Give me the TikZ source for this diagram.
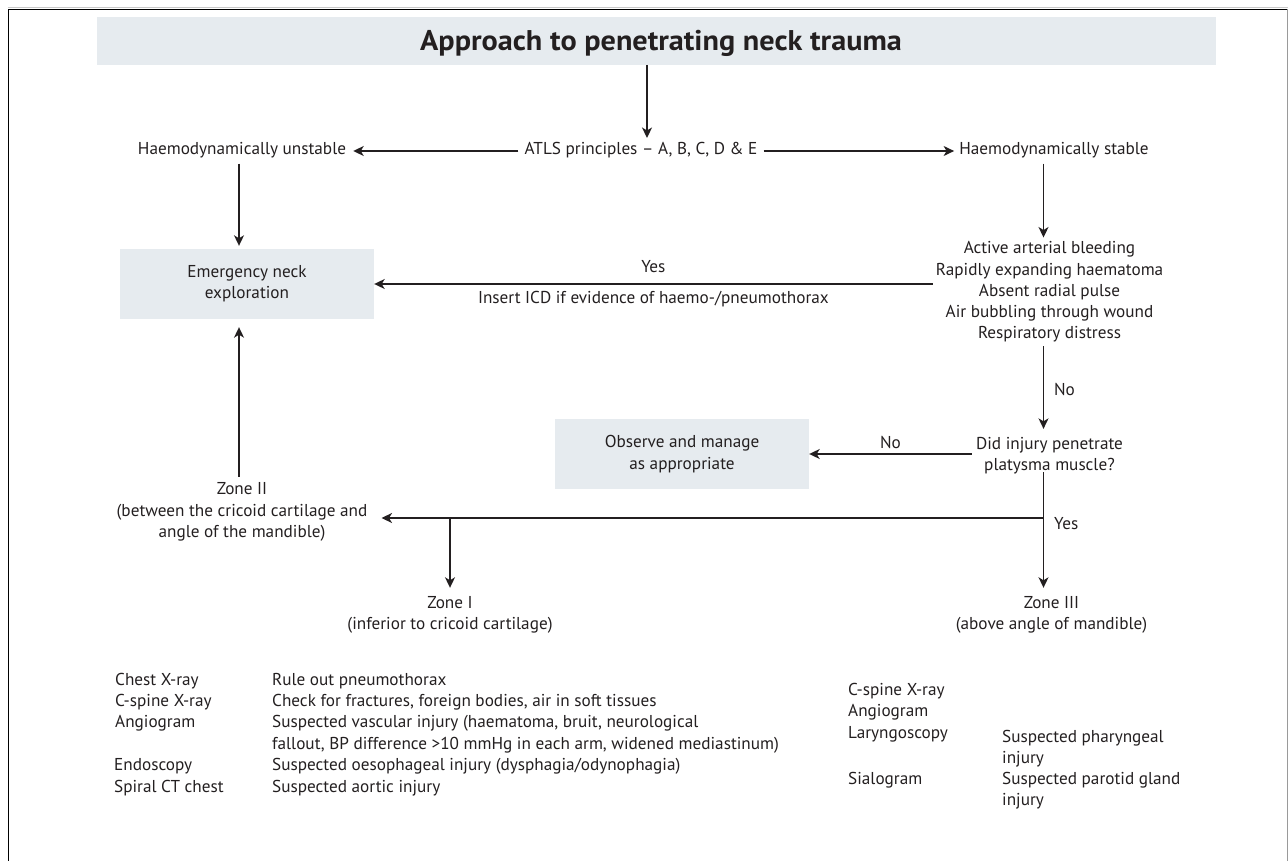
\documentclass[tikz,border=0pt]{standalone}
\usepackage{fontspec}
\setmainfont{PT Sans}
\usetikzlibrary{arrows.meta}
\definecolor{ink}{HTML}{231F20}
\definecolor{panel}{HTML}{E6EBEF}
\definecolor{rim}{HTML}{9A9A9A}
\definecolor{haze}{HTML}{C8C8C8}
\begin{document}
\begin{tikzpicture}[x=1pt,y=-1pt,
  font=\fontsize{17.2}{21.2}\selectfont,
  every node/.style={text=ink},
  txt/.style={inner sep=0pt, align=center},
  cell/.style={inner sep=0pt, anchor=base west},
  panelbox/.style={fill=panel, minimum width=254pt, minimum height=70pt, inner sep=0pt, align=center},
  link/.style={draw=ink, line width=1.3pt},
  arr/.style={link, -{Stealth[length=10.5pt,width=10pt,inset=3pt]}}]
\useasboundingbox (0,0) rectangle (1288,861);

% frame
\draw[haze, line width=0.8pt] (8,7.3) -- (1288,7.3);
\draw[black, line width=1pt] (8,861) -- (8,9.5) -- (1288,9.5);
\draw[rim, line width=1pt] (1287,9.5) -- (1287,861);

% title band
\node[fill=panel, minimum width=1119pt, minimum height=48pt, inner sep=0pt] (band) at (656.5,40.8) {};
\node[inner sep=0pt, anchor=base,
      font=\fontsize{28.5}{32}\selectfont\bfseries\addfontfeatures{FakeStretch=1.06}] (title) at (661,50.7)
      {Approach to penetrating neck trauma};

% first level
\coordinate (rowA) at (0,151);
\node[inner sep=0pt, anchor=base] (atls) at (641,155) {ATLS principles – A, B, C, D \& E};
\node[inner sep=0pt, anchor=base] (unst) at (242,155) {Haemodynamically unstable};
\node[inner sep=0pt, anchor=base] (stab) at (1054,155) {Haemodynamically stable};

% boxes and decision texts
\node[panelbox] (emerg) at (247,284) {Emergency neck\\exploration};
\node[txt] (signs) at (1049.5,292) {Active arterial bleeding\\Rapidly expanding haematoma\\Absent radial pulse\\Air bubbling through wound\\Respiratory distress};
\node[txt] (platy) at (1049.5,455.5) {Did injury penetrate\\platysma muscle?};
\node[panelbox] (obs) at (682,454) {Observe and manage\\as appropriate};

% zones
\node[txt] (z2) at (242,512) {Zone II\\(between the cricoid cartilage and\\angle of the mandible)};
\node[txt] (z1) at (450,614.5) {Zone I\\(inferior to cricoid cartilage)};
\node[txt] (z3) at (1051.5,614.5) {Zone III\\(above angle of mandible)};

% column helpers
\coordinate (colL) at (239,0);
\coordinate (colR) at (1043.5,0);
\coordinate (colI) at (450,0);
\coordinate (atlsIn) at (647,138);
\coordinate (fork) at (1043.5,518);

% connectors
\draw[arr] (band.south -| atlsIn) -- (atlsIn);
\draw[arr] ([xshift=-6pt]atls.west |- rowA) -- ([xshift=7pt]unst.east |- rowA);
\draw[arr] ([xshift=6pt]atls.east |- rowA) -- ([xshift=-5pt]stab.west |- rowA);
\draw[arr, shorten <=5pt, shorten >=3pt] (unst.south -| colL) -- (emerg.north -| colL);
\draw[arr, shorten <=5pt, shorten >=4pt] (stab.south -| colR) -- (signs.north -| colR);
\draw[arr] ([xshift=-3pt]signs.west |- emerg.east) -- (emerg.east)
  node[txt, midway, yshift=17pt] {Yes}
  node[txt, midway, yshift=-15.5pt] {Insert ICD if evidence of haemo-/pneumothorax};
\draw[arr, shorten <=4pt, shorten >=8pt] (signs.south -| colR) -- (platy.north -| colR)
  node[txt, midway, right=10pt] {No};
\draw[arr] ([xshift=-4pt]platy.west |- obs.east) -- (obs.east)
  node[txt, midway, yshift=12pt] {No};
\draw[arr, shorten >=8pt] ([yshift=2pt]platy.south -| colR) -- (z3.north -| colR)
  node[txt, pos=0.42, right=10pt] {Yes};
\draw[arr] (fork) -- ([xshift=14pt]z2.east |- fork);
\draw[arr, shorten >=8pt] (fork -| colI) -- (z1.north -| colI);
\draw[arr, shorten >=8pt] ([yshift=6pt]z2.north -| colL) -- (emerg.south -| colL);

% investigations, zone I and II
\node[cell] (a1) at (115,685) {Chest X-ray};
\node[cell] (a2) at (115,706.4) {C-spine X-ray};
\node[cell] (a3) at (115,727.8) {Angiogram};
\node[cell] (a5) at (114,770.6) {Endoscopy};
\node[cell] (a6) at (114,792) {Spiral CT chest};
\node[cell] (b1) at (272,685) {Rule out pneumothorax};
\node[cell] (b2) at (272,706.4) {Check for fractures, foreign bodies, air in soft tissues};
\node[cell] (b3) at (272,727.8) {Suspected vascular injury (haematoma, bruit, neurological};
\node[cell] (b4) at (272,749.2) {fallout, BP difference >10 mmHg in each arm, widened mediastinum)};
\node[cell] (b5) at (272,770.6) {Suspected oesophageal injury (dysphagia/odynophagia)};
\node[cell] (b6) at (272,792) {Suspected aortic injury};

% investigations, zone III
\node[cell] (c1) at (848,695) {C-spine X-ray};
\node[cell] (c2) at (848,716) {Angiogram};
\node[cell] (c3) at (848,738) {Laryngoscopy};
\node[cell] (c4) at (848,784) {Sialogram};
\node[cell] (d1) at (1002,742) {Suspected pharyngeal};
\node[cell] (d2) at (1002,763) {injury};
\node[cell] (d3) at (1002,784) {Suspected parotid gland};
\node[cell] (d4) at (1002,805) {injury};
\end{tikzpicture}
\end{document}
